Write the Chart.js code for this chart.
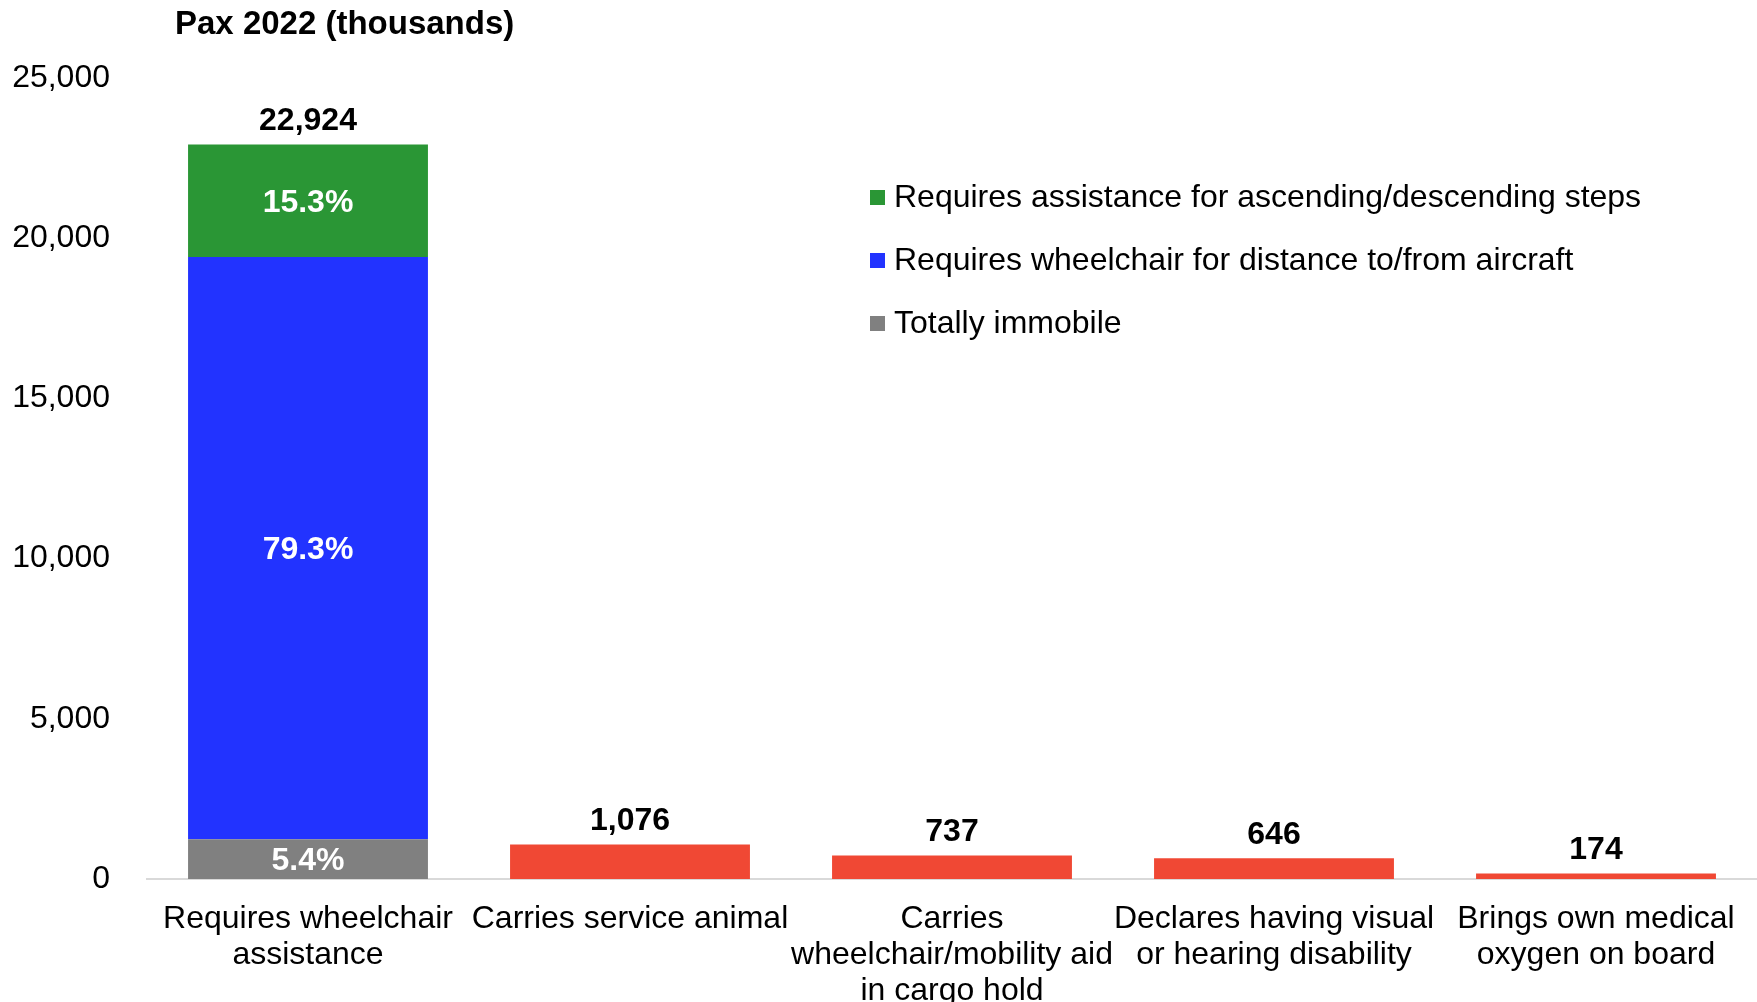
<!DOCTYPE html>
<html>
<head>
<meta charset="utf-8">
<title>Pax 2022 (thousands)</title>
<script src="https://cdn.jsdelivr.net/npm/chart.js@4.4.1/dist/chart.umd.min.js"></script>
<style>
  html, body { margin: 0; padding: 0; background: #ffffff; overflow: hidden; }
  #wrap { width: 1757px; height: 1002px; position: relative; }
</style>
</head>
<body>
<div id="wrap"><canvas id="chart" width="1757" height="1002"></canvas></div>
<script>
// Passengers needing assistance, 2022 (thousands)
const categories = [
  ['Requires wheelchair', 'assistance'],
  ['Carries service animal'],
  ['Carries', 'wheelchair/mobility aid', 'in cargo hold'],
  ['Declares having visual', 'or hearing disability'],
  ['Brings own medical', 'oxygen on board']
];
// Breakdown of the wheelchair-assistance bar
const totallyImmobile   = [1238, null, null, null, null];
const wheelchairDistance = [18179, null, null, null, null];
const assistanceSteps    = [3507, null, null, null, null];
// Remaining categories
const otherNeeds = [null, 1076, 737, 646, 174];

const yTicks = [0, 5000, 10000, 15000, 20000, 25000];

const FONT = "'Liberation Sans', Arial, sans-serif";
const fmt = v => Math.round(v).toLocaleString('en-US');

const COLORS = {
  gray: '#808080',
  blue: '#2233FF',
  green: '#2A9635',
  red: '#F04834'
};

// Value labels: totals above each bar, shares inside the stacked segments
const labelPlugin = {
  id: 'valueLabels',
  afterDatasetsDraw(chart) {
    const ctx = chart.ctx;
    const ds = chart.data.datasets;
    ctx.save();
    ctx.textAlign = 'center';
    ctx.textBaseline = 'middle';
    categories.forEach((_, i) => {
      let total = 0;
      let topEl = null;
      ds.forEach((d, di) => {
        const v = d.data[i];
        if (v != null) {
          total += v;
          const el = chart.getDatasetMeta(di).data[i];
          if (!topEl || el.y < topEl.y) topEl = el;
        }
      });
      if (!topEl) return;
      // segment shares
      const segs = ds.filter(d => d.showShare && d.data[i] != null);
      if (segs.length > 1) {
        ds.forEach((d, di) => {
          if (!d.showShare || d.data[i] == null) return;
          const el = chart.getDatasetMeta(di).data[i];
          const share = (d.data[i] / total * 100).toFixed(1) + '%';
          ctx.fillStyle = '#ffffff';
          ctx.font = 'bold 32px ' + FONT;
          ctx.fillText(share, el.x, (el.y + el.base) / 2 + 2);
        });
      }
      ctx.fillStyle = '#000000';
      ctx.font = 'bold 32px ' + FONT;
      ctx.fillText(fmt(total), topEl.x, topEl.y - 23);
    });
    ctx.restore();
  }
};

// Legend for the stacked breakdown, listed top segment first
const legendPlugin = {
  id: 'breakdownLegend',
  afterDraw(chart) {
    const ctx = chart.ctx;
    const items = chart.data.datasets.filter(d => d.showShare).slice().reverse();
    ctx.save();
    ctx.font = '32px ' + FONT;
    ctx.textAlign = 'left';
    ctx.textBaseline = 'middle';
    items.forEach((d, k) => {
      const y = 197 + k * 63;
      ctx.fillStyle = d.backgroundColor;
      ctx.fillRect(870, y - 7, 15, 15);
      ctx.fillStyle = '#000000';
      ctx.fillText(d.label, 894, y + 1);
    });
    ctx.restore();
  }
};

// Axis title in the top-left corner
const headingPlugin = {
  id: 'heading',
  afterDraw(chart) {
    const ctx = chart.ctx;
    ctx.save();
    ctx.font = 'bold 33px ' + FONT;
    ctx.fillStyle = '#000000';
    ctx.textAlign = 'left';
    ctx.textBaseline = 'middle';
    ctx.fillText('Pax 2022 (thousands)', 175, 25);
    ctx.restore();
  }
};

new Chart(document.getElementById('chart'), {
  type: 'bar',
  data: {
    labels: categories,
    datasets: [
      { label: 'Totally immobile', data: totallyImmobile, backgroundColor: COLORS.gray, showShare: true },
      { label: 'Requires wheelchair for distance to/from aircraft', data: wheelchairDistance, backgroundColor: COLORS.blue, showShare: true },
      { label: 'Requires assistance for ascending/descending steps', data: assistanceSteps, backgroundColor: COLORS.green, showShare: true },
      { label: 'Other needs', data: otherNeeds, backgroundColor: COLORS.red, showShare: false }
    ]
  },
  options: {
    responsive: false,
    animation: false,
    devicePixelRatio: 1,
    layout: { padding: { top: 78, right: 0, bottom: 0, left: 0 } },
    datasets: { bar: { categoryPercentage: 1, barPercentage: 0.745, borderWidth: 0 } },
    plugins: {
      legend: { display: false },
      title: { display: false },
      tooltip: { enabled: false }
    },
    scales: {
      x: {
        stacked: true,
        grid: { display: false, drawTicks: false },
        border: { display: true, color: '#D9D9D9', width: 2 },
        ticks: {
          color: '#000000',
          font: { family: FONT, size: 32, lineHeight: 1.125 },
          padding: 22,
          autoSkip: false,
          maxRotation: 0,
          minRotation: 0
        },
        afterFit(scale) { scale.height = 123; }
      },
      y: {
        stacked: true,
        min: yTicks[0],
        max: yTicks[yTicks.length - 1],
        grid: { display: false, drawTicks: false },
        border: { display: false },
        afterBuildTicks(scale) { scale.ticks = yTicks.map(v => ({ value: v })); },
        ticks: {
          color: '#000000',
          font: { family: FONT, size: 32 },
          padding: 37,
          callback: v => fmt(v)
        },
        afterFit(scale) { scale.width = 147; }
      }
    }
  },
  plugins: [labelPlugin, legendPlugin, headingPlugin]
});
</script>
</body>
</html>
